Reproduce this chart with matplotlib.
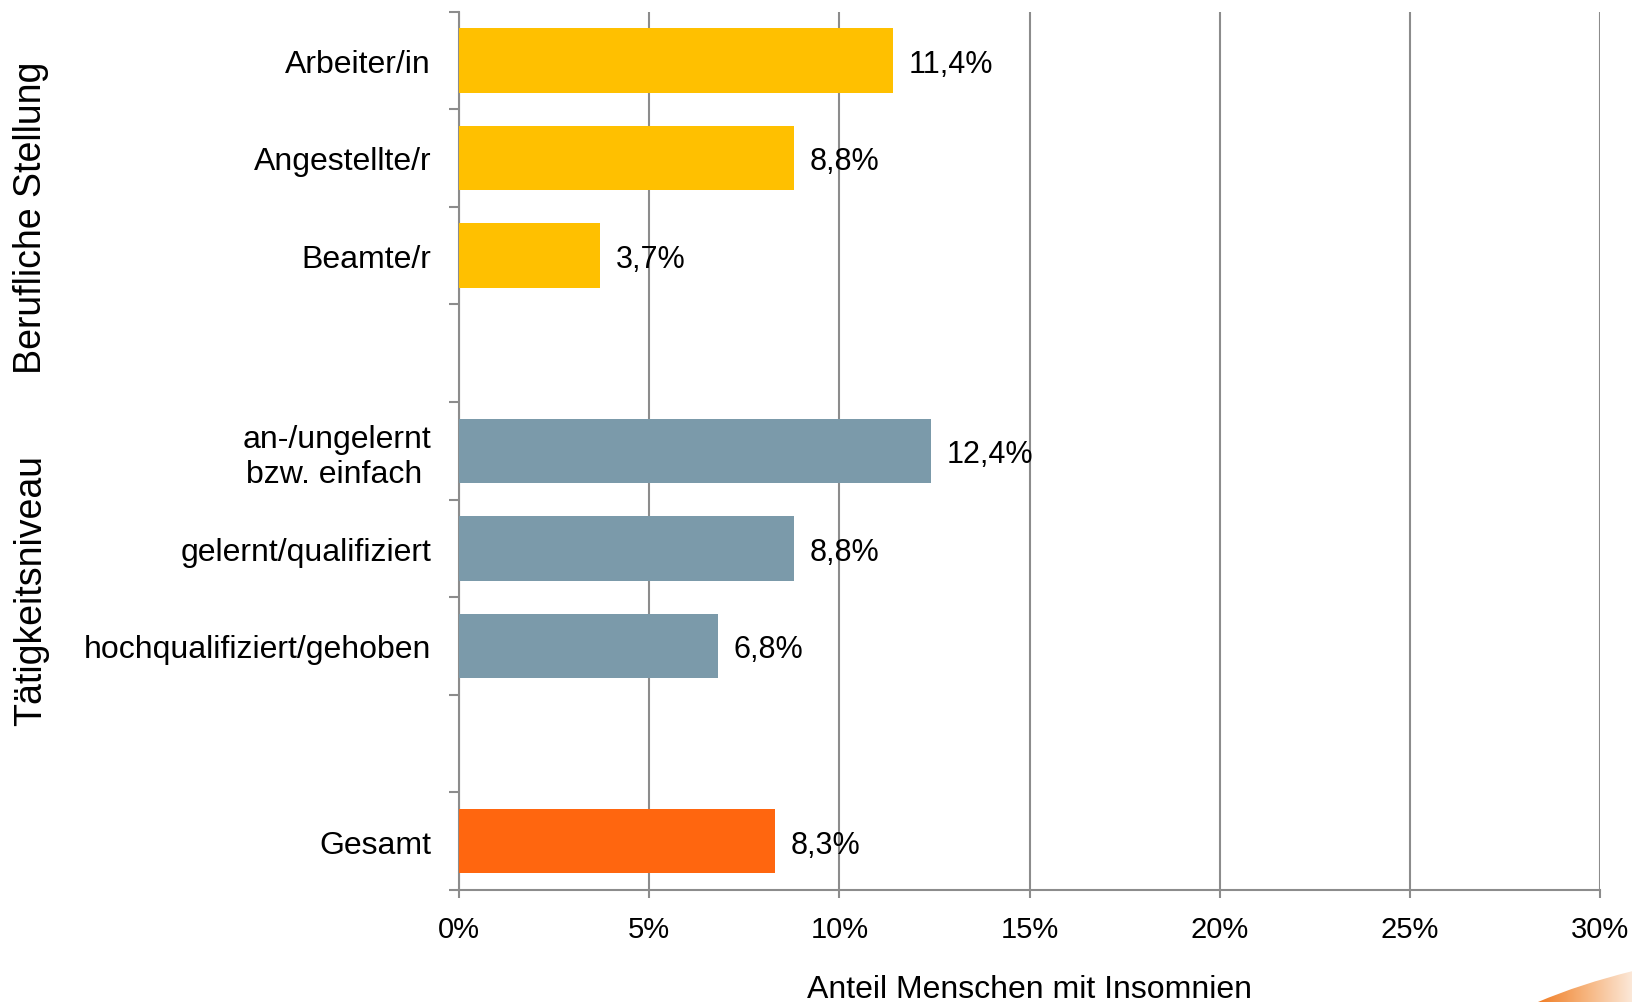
import matplotlib.pyplot as plt
import numpy as np
from matplotlib.path import Path
from matplotlib.patches import PathPatch
from matplotlib.colors import LinearSegmentedColormap

plt.rcParams['font.family'] = ['Liberation Sans', 'DejaVu Sans']

# Daten
beruf_labels = ['Arbeiter/in', 'Angestellte/r', 'Beamte/r']
beruf_werte = [11.4, 8.8, 3.7]
taetig_labels = ['an-/ungelernt\nbzw. einfach ', 'gelernt/qualifiziert', 'hochqualifiziert/gehoben']
taetig_werte = [12.4, 8.8, 6.8]
gesamt_label = 'Gesamt'
gesamt_wert = 8.3
wert_texte_beruf = ['11,4%', '8,8%', '3,7%']
wert_texte_taetig = ['12,4%', '8,8%', '6,8%']
wert_text_gesamt = '8,3%'

gelb = '#FFC000'
grau_blau = '#7B9AAA'
orange = '#FF660F'
linie = '#8C8C8C'

# Reihenfolge mit Luecken zwischen den Gruppen
labels = beruf_labels + [''] + taetig_labels + [''] + [gesamt_label]
werte = beruf_werte + [np.nan] + taetig_werte + [np.nan] + [gesamt_wert]
texte = wert_texte_beruf + [''] + wert_texte_taetig + [''] + [wert_text_gesamt]
farben = [gelb] * 3 + ['none'] + [grau_blau] * 3 + ['none'] + [orange]

fig = plt.figure(figsize=(16.33, 10.03), dpi=100)
ax = fig.add_axes([0.281, 0.1117, 0.699, 0.8758])

pos = np.arange(len(labels))
ax.barh(pos, np.nan_to_num(werte), height=0.66, color=farben, zorder=3)
for p, w, t in zip(pos, werte, texte):
    if t:
        ax.text(w + 0.42, p, t, va='center_baseline', ha='left', fontsize=22, zorder=4)

ax.set_ylim(len(labels) - 0.5, -0.5)
ax.set_xlim(0, 30)
ax.set_xticks(np.arange(0, 31, 5))
ax.set_xticklabels([f'{v}%' for v in range(0, 31, 5)], fontsize=21)
ax.set_yticks(pos)
ax.set_yticklabels(labels, fontsize=23)
ax.set_yticks(np.arange(-0.5, len(labels), 1), minor=True)
ax.tick_params(axis='y', which='major', length=0, pad=20)
ax.tick_params(axis='y', which='minor', length=7.5, width=1.5, color=linie)
ax.tick_params(axis='x', length=6, width=1.5, color=linie, pad=12)

ax.grid(axis='x', color=linie, linewidth=1.5, zorder=0)
for s in ['top', 'right']:
    ax.spines[s].set_visible(False)
for s in ['left', 'bottom']:
    ax.spines[s].set_color(linie)
    ax.spines[s].set_linewidth(1.5)

ax.set_xlabel('Anteil Menschen mit Insomnien', fontsize=23, labelpad=22)

fig.text(0.019, 1 - 218 / 1003, 'Berufliche Stellung', rotation=90,
         fontsize=27, ha='center', va='center')
fig.text(0.019, 1 - 590 / 1003, 'Tätigkeitsniveau', rotation=90,
         fontsize=27, ha='center', va='center')

# orangener Bogen unten rechts
deko = fig.add_axes([0, 0, 1, 1], zorder=-1)
deko.set_xlim(0, 1633)
deko.set_ylim(1003, 0)
deko.axis('off')
verlauf = np.linspace(0, 1, 256).reshape(1, -1)
cmap = LinearSegmentedColormap.from_list('bogen', ['#F07A20', '#F6B27A', '#FCE9DA'])
bild = deko.imshow(verlauf, extent=[1535, 1633, 1003, 970], cmap=cmap, aspect='auto')
pfad = Path([(1538, 1003), (1580, 985), (1633, 972), (1633, 1003), (1538, 1003)],
            [Path.MOVETO, Path.CURVE3, Path.CURVE3, Path.LINETO, Path.CLOSEPOLY])
patch = PathPatch(pfad, facecolor='none', edgecolor='none')
deko.add_patch(patch)
bild.set_clip_path(patch)

fig.savefig('out.png', dpi=100)
